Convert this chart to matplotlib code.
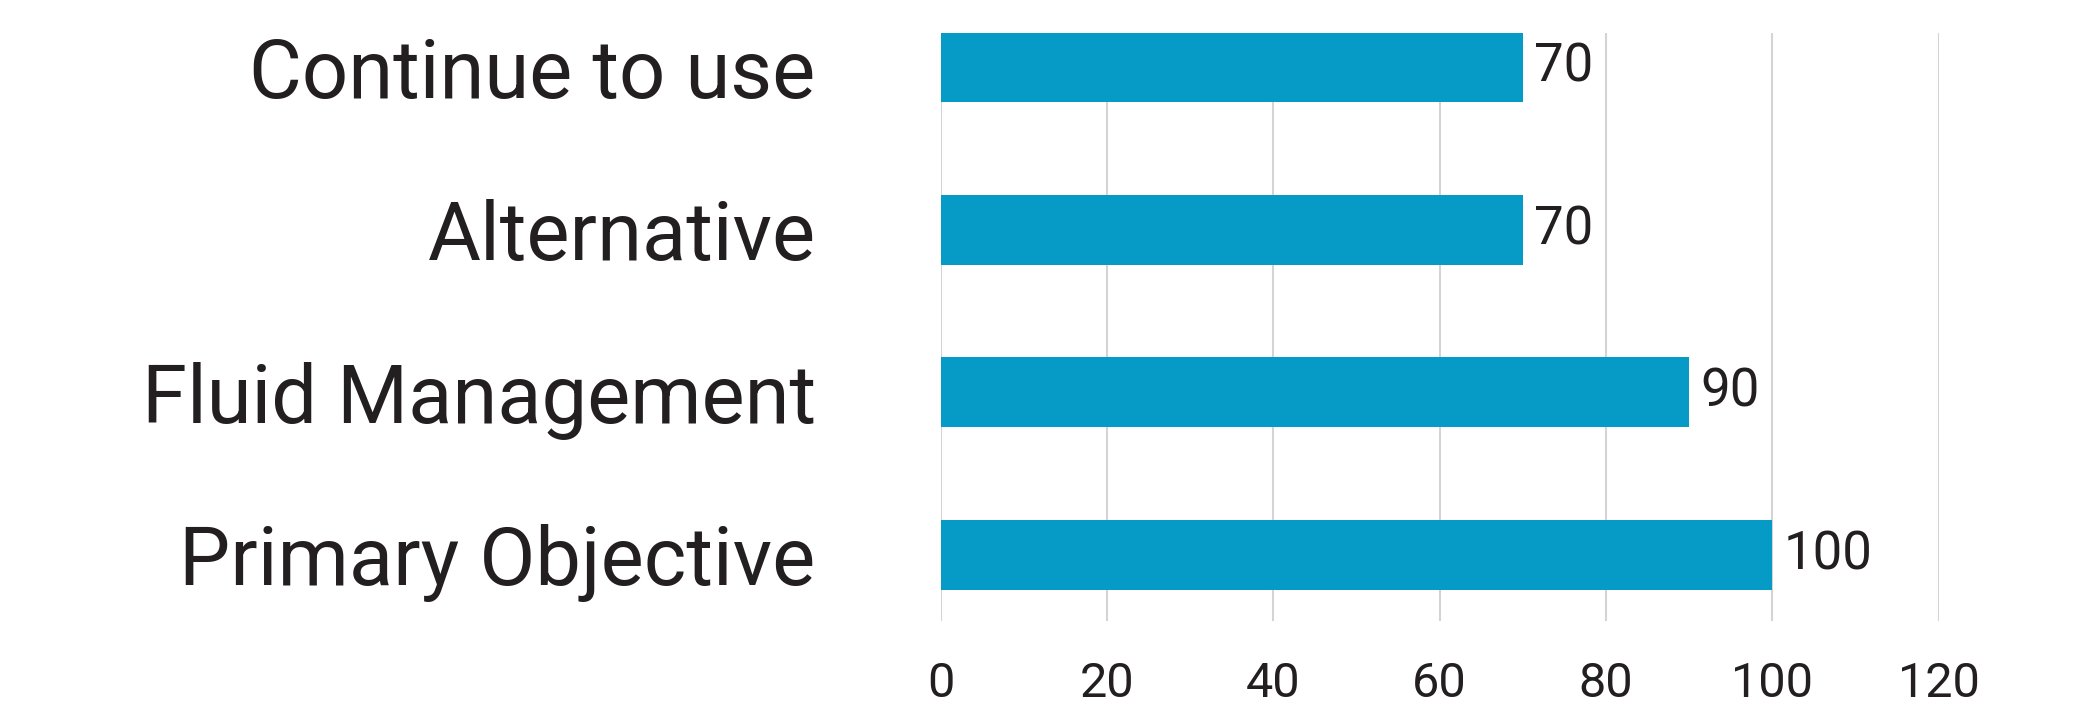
import matplotlib
matplotlib.use('Agg')
import matplotlib.pyplot as plt

categories = ['Primary Objective', 'Fluid Management', 'Alternative', 'Continue to use']
values = [100, 90, 70, 70]
x_ticks = [0, 20, 40, 60, 80, 100, 120]

bar_color = '#069bc6'
text_color = '#231f20'
grid_color = '#d4d4d4'

plt.rcParams['font.family'] = ['Roboto', 'DejaVu Sans']

fig = plt.figure(figsize=(20.95, 7.12), dpi=100)
ax = fig.add_axes([0.449, 0.128, 0.4764, 0.8257])

pos = list(range(len(categories)))
ax.barh(pos, values, height=0.43, color=bar_color, zorder=3)

# value labels at bar ends
for p, v in zip(pos, values):
    ax.text(v + 1.3, p, str(v), va='center', ha='left', fontsize=38, color=text_color)

ax.set_xlim(0, 120)
ax.set_ylim(-0.406, 3.21)
ax.set_xticks(x_ticks)
ax.set_xticklabels([str(t) for t in x_ticks])
ax.set_yticks(pos)
ax.set_yticklabels(categories)

ax.tick_params(axis='x', length=0, pad=29, labelsize=35, labelcolor=text_color)
ax.tick_params(axis='y', length=0, pad=90, labelsize=58.5, labelcolor=text_color)

ax.grid(axis='x', color=grid_color, linewidth=1.5, zorder=0)
for s in ax.spines.values():
    s.set_visible(False)

plt.savefig('out.png', dpi=100)
